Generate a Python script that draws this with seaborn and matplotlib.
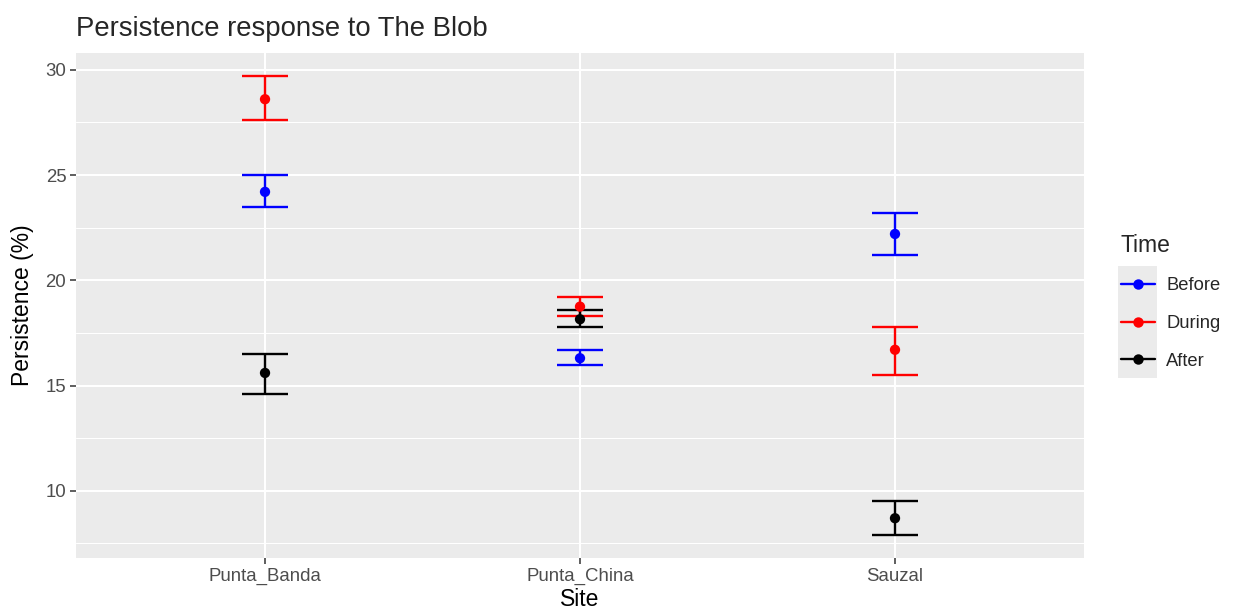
import matplotlib
matplotlib.use("Agg")
import matplotlib.pyplot as plt
import seaborn as sns
import pandas as pd
from matplotlib.lines import Line2D
from matplotlib.patches import Rectangle

sites = ["Punta_Banda", "Punta_China", "Sauzal"]
times = ["Before", "During", "After"]
colors = {"Before": "#0000FF", "During": "#FF0000", "After": "#000000"}

before_mean = [24.2, 16.3, 22.2]
before_low = [23.5, 16.0, 21.2]
before_high = [25.0, 16.7, 23.2]

during_mean = [28.6, 18.75, 16.7]
during_low = [27.6, 18.3, 15.5]
during_high = [29.7, 19.2, 17.8]

after_mean = [15.6, 18.15, 8.7]
after_low = [14.6, 17.8, 7.9]
after_high = [16.5, 18.6, 9.5]

df = pd.DataFrame({
    "Site": sites * 3,
    "Time": ["Before"] * 3 + ["During"] * 3 + ["After"] * 3,
    "mean": before_mean + during_mean + after_mean,
    "low": before_low + during_low + after_low,
    "high": before_high + during_high + after_high,
})

sns.set_style("darkgrid")
plt.rcParams["font.family"] = ["Liberation Sans", "DejaVu Sans"]

fig = plt.figure(figsize=(12.38, 6.12), dpi=100)
ax = fig.add_axes([0.0614, 0.0882, 0.8142, 0.8257])
ax.set_facecolor("#EBEBEB")

xpos = {s: i for i, s in enumerate(sites)}

# error bars first, points on top (like geom_errorbar + geom_point)
for t in times:
    sub = df[df["Time"] == t]
    x = [xpos[s] for s in sub["Site"]]
    ax.errorbar(x, sub["mean"],
                yerr=[sub["mean"] - sub["low"], sub["high"] - sub["mean"]],
                fmt="none", ecolor=colors[t], elinewidth=1.7,
                capsize=16.9, capthick=1.7, zorder=2)

sns.scatterplot(data=df, x="Site", y="mean", hue="Time", palette=colors,
                s=55, edgecolor="none", legend=False, zorder=3, ax=ax)

ax.set_xlim(-0.6, 2.6)
ax.set_ylim(6.81, 30.81)
ax.set_yticks([10, 15, 20, 25, 30])
ax.set_yticks([7.5, 12.5, 17.5, 22.5, 27.5], minor=True)
ax.grid(which="major", color="white", linewidth=1.5)
ax.grid(which="minor", axis="y", color="white", linewidth=0.75)
ax.set_axisbelow(True)
for sp in ax.spines.values():
    sp.set_visible(False)

ax.tick_params(axis="both", which="major", length=4, width=1.1,
               color="#333333", labelcolor="#4D4D4D", labelsize=13.4, pad=3,
               bottom=True, left=True)
ax.tick_params(axis="both", which="minor", length=0)

ax.set_xlabel("Site", fontsize=16.5, color="black", labelpad=2)
ax.set_ylabel("Persistence (%)", fontsize=16.5, color="black", labelpad=8)
ax.set_title("Persistence response to The Blob", fontsize=19.8, loc="left",
             x=0.0, pad=12)

# legend key background, as in ggplot
fig.patches.append(Rectangle((1118 / 1238, 1 - 378 / 612), 39 / 1238, 112 / 612,
                             transform=fig.transFigure, facecolor="#EBEBEB",
                             edgecolor="none", zorder=0))
handles = [Line2D([0], [0], color=colors[t], linewidth=1.7, marker="o",
                  markersize=7.5, markeredgewidth=0) for t in times]
leg = fig.legend(handles, times, title="Time", loc="upper left",
                 bbox_to_anchor=(1093 / 1238, 1 - 206 / 612),
                 frameon=False, fontsize=13.2, title_fontsize=16.5,
                 handlelength=1.9, handletextpad=0.6, labelspacing=1.13,
                 borderpad=1.0, alignment="left")

fig.savefig("out.png", dpi=100)
